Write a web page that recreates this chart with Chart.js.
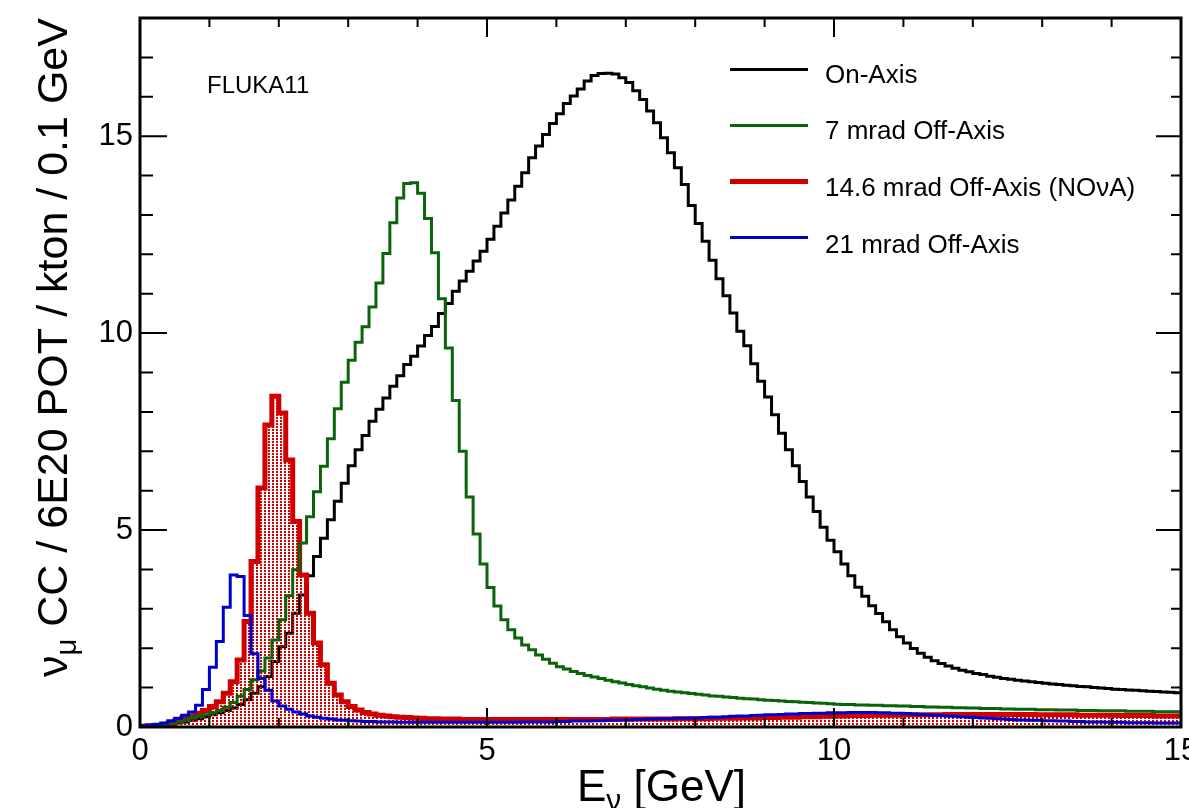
<!DOCTYPE html>
<html>
<head>
<meta charset="utf-8">
<script src="https://cdn.jsdelivr.net/npm/chart.js@4/dist/chart.umd.min.js"></script>
<style>
  html, body { margin: 0; padding: 0; background: #fff; }
  #wrap { position: relative; width: 1189px; height: 808px; overflow: hidden;
          font-family: "Liberation Sans", Arial, Helvetica, sans-serif; }
  canvas { position: absolute; left: 0; top: 0; }
  .txt { position: absolute; white-space: nowrap; line-height: 1; color: #000; }
  .sub { font-size: 0.68em; position: relative; top: 0.3em; }
  .key { position: absolute; left: 730px; width: 78px; }
</style>
</head>
<body>
<div id="wrap">
  <canvas id="c" width="1189" height="808"></canvas>

  <div class="txt" style="font-size:43px; left:31px; top:677px; transform:rotate(-90deg); transform-origin:0 0;">ν<span class="sub">μ</span> CC / 6E20 POT / kton / 0.1 GeV</div>
  <div class="txt" style="font-size:44px; left:577px; top:764px;">E<span class="sub">ν</span> [GeV]</div>

  <div class="txt" style="font-size:24px; left:207px; top:73px;">FLUKA11</div>

  <div class="key" style="top:68px; height:3px; background:#000;"></div>
  <div class="key" style="top:124px; height:3px; background:#0a640a;"></div>
  <div class="key" style="top:179px; height:5px; background:#d10000;"></div>
  <div class="key" style="top:236px; height:3px; background:#0000cc;"></div>
  <div class="txt" style="font-size:26px; left:825px; top:61px;">On-Axis</div>
  <div class="txt" style="font-size:26px; left:825px; top:117px;">7 mrad Off-Axis</div>
  <div class="txt" style="font-size:26px; left:825px; top:174px;">14.6 mrad Off-Axis (NOνA)</div>
  <div class="txt" style="font-size:26px; left:825px; top:231px;">21 mrad Off-Axis</div>
</div>

<script>
// 0.1 GeV bins from 0 to 15 GeV, nu_mu CC / 6E20 POT / kton / 0.1 GeV
const binWidth = 0.1
const xTicks = [0, 5, 10, 15]
const yTicks = [0, 5, 10, 15]

const onAxis = [
  0.03, 0.03, 0.04, 0.05, 0.07, 0.10, 0.13, 0.17, 0.21, 0.26,
  0.31, 0.36, 0.42, 0.48, 0.57, 0.69, 0.86, 1.02, 1.28, 1.66,
  2.04, 2.38, 2.89, 3.35, 3.84, 4.33, 4.79, 5.26, 5.73, 6.19,
  6.63, 7.04, 7.40, 7.76, 8.07, 8.35, 8.65, 8.92, 9.20, 9.41,
  9.67, 9.94, 10.17, 10.50, 10.75, 11.06, 11.32, 11.57, 11.83, 12.08,
  12.38, 12.71, 13.05, 13.38, 13.73, 14.07, 14.45, 14.75, 15.04, 15.32,
  15.57, 15.83, 16.02, 16.20, 16.40, 16.54, 16.59, 16.60, 16.58, 16.48,
  16.36, 16.15, 15.93, 15.64, 15.34, 14.96, 14.58, 14.20, 13.77, 13.24,
  12.78, 12.33, 11.85, 11.38, 10.95, 10.51, 10.05, 9.68, 9.22, 8.78,
  8.38, 7.93, 7.46, 7.04, 6.63, 6.23, 5.84, 5.47, 5.07, 4.74,
  4.45, 4.14, 3.84, 3.55, 3.32, 3.08, 2.88, 2.67, 2.47, 2.29,
  2.13, 1.99, 1.87, 1.77, 1.68, 1.61, 1.55, 1.49, 1.44, 1.40,
  1.36, 1.33, 1.29, 1.26, 1.23, 1.21, 1.19, 1.17, 1.15, 1.13,
  1.11, 1.09, 1.08, 1.06, 1.05, 1.03, 1.02, 1.00, 0.99, 0.98,
  0.96, 0.95, 0.94, 0.93, 0.92, 0.91, 0.90, 0.89, 0.88, 0.87
]

const offAxis7 = [
  0.03, 0.04, 0.05, 0.07, 0.10, 0.13, 0.17, 0.22, 0.27, 0.31,
  0.36, 0.42, 0.50, 0.62, 0.78, 0.95, 1.20, 1.42, 1.75, 2.21,
  2.72, 3.33, 3.99, 4.67, 5.34, 5.97, 6.62, 7.32, 8.08, 8.75,
  9.31, 9.77, 10.16, 10.66, 11.27, 12.02, 12.80, 13.43, 13.80, 13.82,
  13.55, 12.91, 12.04, 10.87, 9.62, 8.29, 7.00, 5.84, 4.90, 4.14,
  3.54, 3.07, 2.72, 2.47, 2.26, 2.08, 1.96, 1.83, 1.72, 1.62,
  1.53, 1.47, 1.41, 1.36, 1.31, 1.27, 1.23, 1.19, 1.15, 1.12,
  1.08, 1.05, 1.02, 0.99, 0.96, 0.93, 0.91, 0.89, 0.87, 0.85,
  0.83, 0.81, 0.79, 0.78, 0.76, 0.75, 0.73, 0.72, 0.71, 0.69,
  0.68, 0.67, 0.66, 0.65, 0.64, 0.63, 0.62, 0.61, 0.60, 0.59,
  0.58, 0.57, 0.57, 0.56, 0.56, 0.55, 0.55, 0.54, 0.54, 0.53,
  0.53, 0.52, 0.52, 0.51, 0.51, 0.50, 0.50, 0.49, 0.49, 0.48,
  0.48, 0.47, 0.47, 0.47, 0.46, 0.46, 0.45, 0.45, 0.45, 0.44,
  0.44, 0.44, 0.43, 0.43, 0.43, 0.42, 0.42, 0.42, 0.41, 0.41,
  0.41, 0.41, 0.40, 0.40, 0.40, 0.40, 0.39, 0.39, 0.39, 0.39
]

const offAxisNova = [
  0.02, 0.03, 0.04, 0.05, 0.09, 0.16, 0.22, 0.28, 0.35, 0.42,
  0.52, 0.64, 0.86, 1.15, 1.70, 2.68, 4.20, 6.07, 7.67, 8.40,
  7.97, 6.78, 5.22, 3.86, 2.89, 2.13, 1.58, 1.11, 0.81, 0.64,
  0.52, 0.43, 0.37, 0.33, 0.30, 0.28, 0.26, 0.25, 0.24, 0.23,
  0.22, 0.21, 0.21, 0.20, 0.20, 0.20, 0.19, 0.19, 0.19, 0.19,
  0.19, 0.19, 0.19, 0.19, 0.19, 0.19, 0.19, 0.19, 0.19, 0.19,
  0.19, 0.19, 0.19, 0.19, 0.19, 0.19, 0.19, 0.19, 0.20, 0.20,
  0.20, 0.20, 0.20, 0.20, 0.20, 0.20, 0.20, 0.21, 0.21, 0.21,
  0.21, 0.21, 0.22, 0.22, 0.22, 0.22, 0.23, 0.23, 0.23, 0.24,
  0.24, 0.24, 0.25, 0.25, 0.25, 0.26, 0.26, 0.26, 0.27, 0.27,
  0.28, 0.28, 0.29, 0.29, 0.29, 0.30, 0.30, 0.30, 0.30, 0.30,
  0.31, 0.31, 0.31, 0.31, 0.31, 0.31, 0.32, 0.32, 0.32, 0.32,
  0.32, 0.32, 0.32, 0.32, 0.32, 0.32, 0.32, 0.32, 0.32, 0.31,
  0.31, 0.31, 0.31, 0.31, 0.31, 0.30, 0.30, 0.30, 0.30, 0.30,
  0.30, 0.29, 0.29, 0.29, 0.29, 0.29, 0.28, 0.28, 0.28, 0.28
]

const offAxis21 = [
  0.04, 0.05, 0.07, 0.10, 0.16, 0.22, 0.30, 0.38, 0.55, 0.95,
  1.52, 2.17, 3.04, 3.86, 3.82, 2.83, 1.86, 1.23, 0.93, 0.66,
  0.53, 0.45, 0.38, 0.33, 0.28, 0.25, 0.22, 0.20, 0.18, 0.17,
  0.16, 0.15, 0.14, 0.14, 0.13, 0.13, 0.13, 0.12, 0.12, 0.12,
  0.12, 0.12, 0.12, 0.12, 0.12, 0.12, 0.12, 0.12, 0.12, 0.12,
  0.12, 0.12, 0.12, 0.12, 0.12, 0.13, 0.13, 0.13, 0.13, 0.13,
  0.14, 0.14, 0.15, 0.15, 0.15, 0.16, 0.16, 0.17, 0.17, 0.18,
  0.18, 0.19, 0.19, 0.20, 0.20, 0.21, 0.21, 0.22, 0.22, 0.23,
  0.23, 0.24, 0.25, 0.25, 0.26, 0.27, 0.28, 0.28, 0.29, 0.30,
  0.31, 0.31, 0.32, 0.33, 0.33, 0.34, 0.34, 0.35, 0.35, 0.36,
  0.36, 0.36, 0.37, 0.37, 0.37, 0.37, 0.36, 0.36, 0.35, 0.35,
  0.34, 0.33, 0.32, 0.31, 0.30, 0.29, 0.28, 0.27, 0.26, 0.25,
  0.24, 0.23, 0.22, 0.21, 0.20, 0.19, 0.18, 0.18, 0.17, 0.17,
  0.16, 0.16, 0.15, 0.15, 0.14, 0.14, 0.13, 0.13, 0.13, 0.12,
  0.12, 0.12, 0.11, 0.11, 0.11, 0.11, 0.10, 0.10, 0.10, 0.10
]

// one point per left bin edge, plus the closing edge at 15 GeV
function histPoints(vals) {
  const pts = vals.map((v, i) => ({ x: Math.round(i * binWidth * 10) / 10, y: v }))
  pts.push({ x: Math.round(vals.length * binWidth * 10) / 10, y: vals[vals.length - 1] })
  return pts
}

// ROOT style dotted fill, sparse red dots on transparent
function dotPattern(color) {
  const pc = document.createElement("canvas")
  pc.width = 4
  pc.height = 3
  const g = pc.getContext("2d")
  g.fillStyle = color
  g.fillRect(0, 0, 2, 2)
  return document.getElementById("c").getContext("2d").createPattern(pc, "repeat")
}

// frame with inward ticks on all four sides
const framePlugin = {
  id: "frame",
  afterDraw(chart) {
    const { ctx, chartArea: a } = chart
    const xs = chart.scales.x
    const ys = chart.scales.y
    ctx.save()
    ctx.strokeStyle = "#000"
    ctx.lineWidth = 2
    ctx.beginPath()
    for (let v = 0; v <= 15; v++) {
      const px = xs.getPixelForValue(v)
      const major = xTicks.includes(v)
      ctx.moveTo(px, a.bottom)
      ctx.lineTo(px, a.bottom - (major ? 19 : 9))
      ctx.moveTo(px, a.top)
      ctx.lineTo(px, a.top + (major ? 19 : 9))
    }
    for (let v = 0; v <= 18; v++) {
      const py = ys.getPixelForValue(v)
      const major = yTicks.includes(v)
      ctx.moveTo(a.left, py)
      ctx.lineTo(a.left + (major ? 27 : 13), py)
      ctx.moveTo(a.right, py)
      ctx.lineTo(a.right - (major ? 25 : 10), py)
    }
    ctx.stroke()
    ctx.lineWidth = 3
    ctx.strokeRect(a.left, a.top, a.right - a.left, a.bottom - a.top)
    ctx.restore()
  }
}

const tickFont = { family: '"Liberation Sans", Arial, Helvetica, sans-serif', size: 31 }

const config = {
  type: "line",
  data: {
    datasets: [
      {
        label: "On-Axis",
        data: histPoints(onAxis),
        borderColor: "#000000",
        borderWidth: 3,
        order: 3
      },
      {
        label: "7 mrad Off-Axis",
        data: histPoints(offAxis7),
        borderColor: "#0a640a",
        borderWidth: 3,
        order: 1
      },
      {
        label: "14.6 mrad Off-Axis (NOvA)",
        data: histPoints(offAxisNova),
        borderColor: "#d10000",
        backgroundColor: dotPattern("#d10000"),
        borderWidth: 5,
        fill: "origin",
        order: 2
      },
      {
        label: "21 mrad Off-Axis",
        data: histPoints(offAxis21),
        borderColor: "#0000cc",
        borderWidth: 3,
        order: 0
      }
    ]
  },
  options: {
    responsive: false,
    animation: false,
    devicePixelRatio: 1,
    elements: {
      line: { stepped: "before", tension: 0, fill: false },
      point: { radius: 0, hoverRadius: 0 }
    },
    layout: { padding: { left: 0, top: 18, right: 8, bottom: 0 } },
    plugins: {
      legend: { display: false },
      tooltip: { enabled: false }
    },
    scales: {
      x: {
        type: "linear",
        min: 0,
        max: 15,
        grid: { display: false, drawTicks: false },
        border: { display: false },
        ticks: { color: "#000", font: tickFont, padding: 6, maxRotation: 0 },
        afterBuildTicks(scale) {
          scale.ticks = xTicks.map(v => ({ value: v }))
        },
        afterFit(scale) {
          scale.height = 81
          scale.paddingLeft = 0
          scale.paddingRight = 0
        }
      },
      y: {
        type: "linear",
        min: 0,
        max: 18,
        grid: { display: false, drawTicks: false },
        border: { display: false },
        ticks: { color: "#000", font: tickFont, padding: 7 },
        afterBuildTicks(scale) {
          scale.ticks = yTicks.map(v => ({ value: v }))
        },
        afterFit(scale) {
          scale.width = 140
          scale.paddingTop = 0
          scale.paddingBottom = 0
        }
      }
    }
  },
  plugins: [framePlugin]
}

new Chart(document.getElementById("c"), config)
</script>
</body>
</html>
